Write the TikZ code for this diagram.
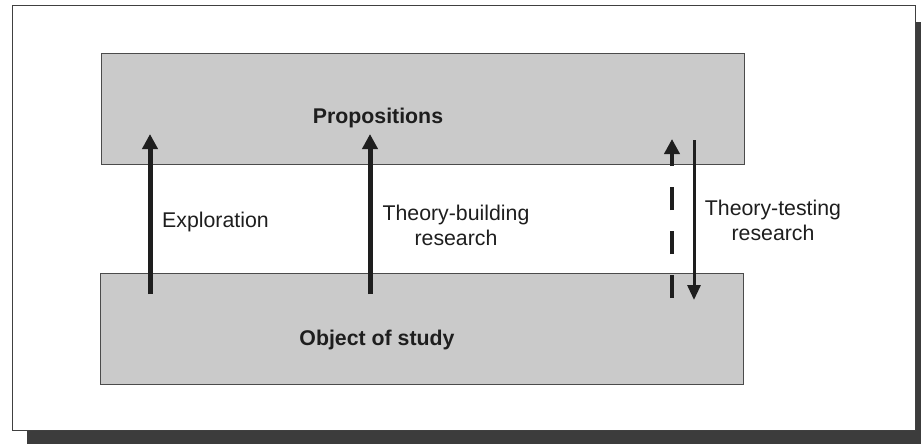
\documentclass[tikz,border=0pt]{standalone}
\usepackage{fontspec}
\setmainfont{Liberation Sans}
\usetikzlibrary{arrows.meta}
\definecolor{bandgrey}{HTML}{CACACA}
\definecolor{shadowgrey}{HTML}{3C3C3C}
\definecolor{ink}{HTML}{1E1E1E}
\tikzset{
  band/.style={draw=ink!80, line width=0.9pt, fill=bandgrey, minimum width=643pt, minimum height=111pt, inner sep=0pt},
  lbl/.style={font=\fontsize{21.3}{25}\selectfont, text=ink, align=center, inner sep=0pt},
  blbl/.style={font=\fontsize{21.3}{25}\selectfont\bfseries, text=ink, inner sep=0pt},
  arr/.style={draw=ink, line width=5pt, -{Triangle[width=15pt,length=15pt]}},
  darr/.style={draw=ink, line width=4.5pt, dash pattern=on 23pt off 21pt, -{Triangle[width=15pt,length=15pt]}},
  tarr/.style={draw=ink, line width=3pt, -{Triangle[width=13pt,length=15pt]}},
}
\begin{document}
\begin{tikzpicture}[x=1pt,y=-1pt]
\useasboundingbox (0,0) rectangle (921,444);
\fill[white] (0,0) rectangle (921,444);
% shadow
\fill[shadowgrey] (27,431) rectangle (921,444);
\fill[shadowgrey] (916,22) rectangle (921,444);
% outer frame
\node[draw=ink!85, line width=1pt, fill=white, minimum width=903pt, minimum height=424pt, inner sep=0pt] (frame) at (463.5,218) {};
% bands
\node[band] (prop) at (422.5,108.5) {};
\node[band] (obj) at (421.5,329) {};
% labels
\node[blbl] (proptxt) at (378,118) {Propositions};
\node[blbl] (objtxt) at (377,340) {Object of study};
\node[lbl, anchor=west] (explo) at (162,222) {Exploration};
\node[lbl] (build) at (456,225.5) {Theory-building\\research};
\node[lbl] (test) at (773,220.5) {Theory-testing\\research};
% arrow end points
\coordinate (e0) at (150,294);
\coordinate (e1) at (150,134);
\coordinate (b0) at (370,294);
\coordinate (b1) at (370,134);
\coordinate (d0) at (672,298);
\coordinate (d1) at (672,139);
\coordinate (t0) at (694,140);
\coordinate (t1) at (694,300);
% arrows
\draw[arr] (e0) -- (e1);
\draw[arr] (b0) -- (b1);
\draw[darr] (d0) -- (d1);
\draw[tarr] (t0) -- (t1);
\end{tikzpicture}
\end{document}
